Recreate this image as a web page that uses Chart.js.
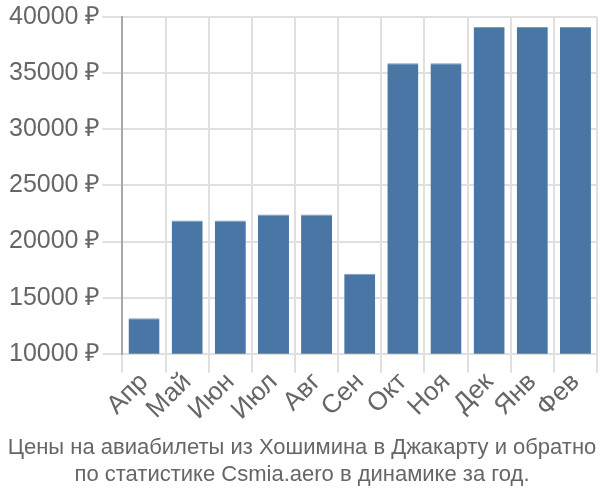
<!DOCTYPE html>
<html>
<head>
<meta charset="utf-8">
<script src="https://cdn.jsdelivr.net/npm/chart.js@4"></script>
<style>
    html, body { margin: 0; padding: 0; background: #fff; }
</style>
</head>
<body>
<canvas id="price-chart" width="600" height="500"></canvas>
<script>
// months and prices
const months = ['Апр', 'Май', 'Июн', 'Июл', 'Авг', 'Сен', 'Окт', 'Ноя', 'Дек', 'Янв', 'Фев'];
const prices = [13170, 21880, 21880, 22400, 22400, 17130, 35870, 35870, 39120, 39120, 39120];
const y_ticks = [10000, 15000, 20000, 25000, 30000, 35000, 40000];
const title_lines = [
    'Цены на авиабилеты из Хошимина в Джакарту и обратно',
    'по статистике Csmia.aero в динамике за год.'
];

Chart.defaults.font.family = '"Liberation Sans", Arial, sans-serif';
Chart.defaults.color = '#666';

new Chart(document.getElementById('price-chart').getContext('2d'), {
    type: 'bar',
    data: {
        labels: months,
        datasets: [{
            data: prices,
            backgroundColor: '#4a76a6',
            borderColor: '#7c9cc2',
            borderWidth: { top: 1, left: 0, right: 0, bottom: 0 },
        }]
    },
    options: {
        responsive: false,
        animation: false,
        layout: { padding: { left: 7, right: 3, top: 0, bottom: 0 } },
        scales: {
            x: {
                grid: { color: '#e0e0e0', lineWidth: 2, tickLength: 19, offset: true },
                border: { color: '#e0e0e0', width: 2 },
                ticks: {
                    font: { size: 26 },
                    maxRotation: 45,
                    minRotation: 45,
                    autoSkip: false,
                    padding: -6,
                }
            },
            y: {
                min: y_ticks[0],
                max: y_ticks[y_ticks.length - 1],
                afterBuildTicks: (axis) => { axis.ticks = y_ticks.map(v => ({ value: v })); },
                grid: { color: '#e0e0e0', lineWidth: 2, tickLength: 20 },
                border: { color: '#aaa', width: 2 },
                ticks: {
                    font: { size: 25 },
                    padding: 2,
                    callback: (v) => v + ' ₽'
                }
            }
        },
        plugins: {
            legend: { display: false },
            tooltip: { enabled: false },
            title: {
                display: true,
                position: 'bottom',
                text: title_lines,
                color: '#666',
                font: { size: 22, weight: 'normal' },
                padding: { top: 15, bottom: 12 },
                lineHeight: 1.2
            }
        }
    }
});
</script>
</body>
</html>
